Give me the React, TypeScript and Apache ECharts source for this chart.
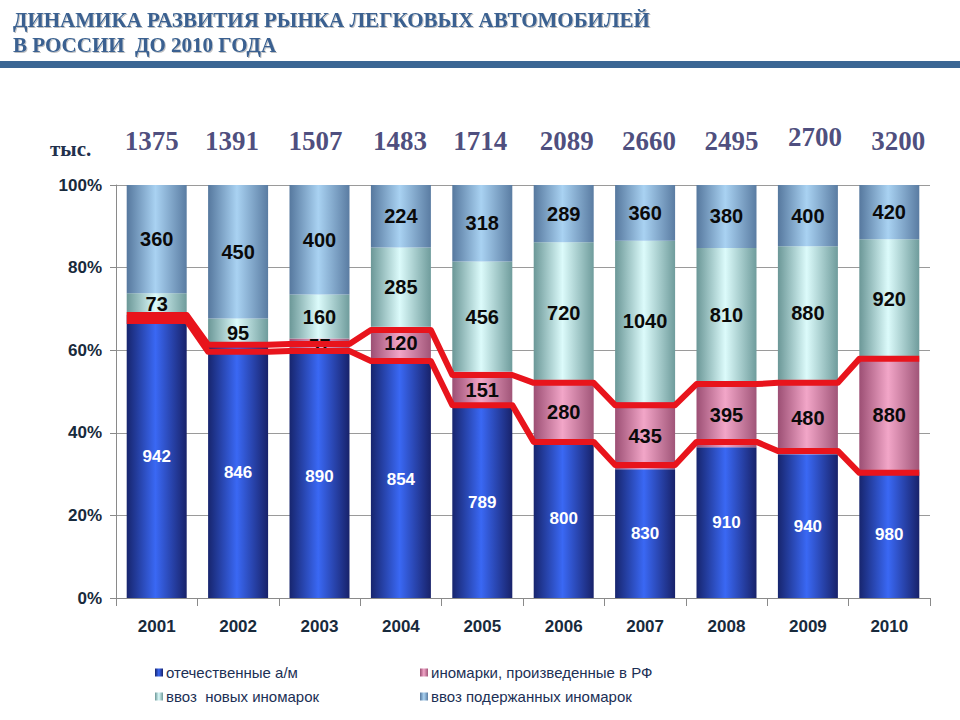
import React, { useEffect, useRef } from "react";
import * as echarts from "echarts";

const years = ["2001", "2002", "2003", "2004", "2005", "2006", "2007", "2008", "2009", "2010"];
const totals = [1375, 1391, 1507, 1483, 1714, 2089, 2660, 2495, 2700, 3200];
const domestic = [942, 846, 890, 854, 789, 800, 830, 910, 940, 980];
const foreignRF = [0, 0, 57, 120, 151, 280, 435, 395, 480, 880];
const newImports = [73, 95, 160, 285, 456, 720, 1040, 810, 880, 920];
const usedImports = [360, 450, 400, 224, 318, 289, 360, 380, 400, 420];
// red lines (% of market)
const lowerLine = [67.1, 59.6, 59.8, 57.4, 46.7, 37.8, 32.2, 37.8, 35.6, 30.3];
const upperLine = [68.5, 61.3, 61.5, 64.9, 54.0, 52.1, 46.7, 51.8, 52.1, 57.9];
const seriesNames = [
  "отечественные а/м",
  "иномарки, произведенные в РФ",
  "ввоз  новых иномарок",
  "ввоз подержанных иномарок",
];
const titleLines = ["ДИНАМИКА РАЗВИТИЯ РЫНКА ЛЕГКОВЫХ АВТОМОБИЛЕЙ", "В РОССИИ  ДО 2010 ГОДА"];
const unitLabel = "тыс.";

// label placement tweaks for the totals row (pixels)
const totalOffsetsX = [-5, -6, -4, -1, -2, 3, 4, 5, 7, 9];
const totalOffsetsY = [-44, -44, -44, -44, -44, -44, -44, -44, -48, -44];

const grad = (edge: string, mid: string, edge2: string) =>
  new echarts.graphic.LinearGradient(0, 0, 1, 0, [
    { offset: 0, color: edge },
    { offset: 0.48, color: mid },
    { offset: 1, color: edge2 },
  ]);

export default function App() {
  const ref = useRef<HTMLDivElement>(null);
  useEffect(() => {
    document.body.style.margin = "0";
    const chart = echarts.init(ref.current!, null, { renderer: "svg" });
    const sums = years.map((_, i) => domestic[i] + foreignRF[i] + newImports[i] + usedImports[i]);
    const pct = (arr: number[]) => arr.map((v, i) => (v / sums[i]) * 100);
    const raw = [domestic, foreignRF, newImports, usedImports];
    const fills = [
      grad("#17256e", "#3a68f4", "#18226a"),
      grad("#9c4f74", "#f2a6c8", "#a05578"),
      grad("#6b9797", "#dcfbfb", "#6f9c9c"),
      grad("#56789e", "#a9d2f2", "#5a7ca2"),
    ];
    const legendColors = ["#2c48c4", "#d98aab", "#b6e2e2", "#7ea6cf"];
    const barHalf = 0.368;
    const stepPts = (vals: number[]) => {
      const pts: number[][] = [];
      vals.forEach((v, i) => {
        pts.push([i + 0.5 - barHalf, v]);
        pts.push([i + 0.5 + barHalf, v]);
      });
      return pts;
    };

    const barSeries = raw.map((arr, si) => ({
      type: "bar",
      name: seriesNames[si],
      stack: "s",
      barWidth: 60,
      xAxisIndex: 0,
      yAxisIndex: 0,
      itemStyle: { color: fills[si] },
      data: pct(arr),
      label: {
        show: true,
        position: "inside",
        formatter: (p: any) => (arr[p.dataIndex] > 0 ? String(arr[p.dataIndex]) : ""),
        fontFamily: "Liberation Sans, Arial, sans-serif",
        fontWeight: "bold",
        fontSize: si === 0 ? 17 : 20,
        color: si === 0 ? "#ffffff" : "#0a0a0a",
      },
      z: 2,
    }));

    const legendText = {
      fontFamily: "Liberation Sans, Arial, sans-serif",
      fontSize: 15,
      color: "#1b2f55",
      padding: [0, 0, 0, -2],
    };

    const redLine = (vals: number[]) => ({
      type: "line",
      xAxisIndex: 1,
      yAxisIndex: 0,
      data: stepPts(vals),
      symbol: "none",
      lineStyle: { color: "#e8141c", width: 6, join: "round" },
      z: 5,
      silent: true,
    });

    const option: any = {
      animation: false,
      backgroundColor: "#ffffff",
      color: legendColors,
      grid: { left: 116, right: 30, top: 185, bottom: 122 },
      legend: [
        {
          left: 150,
          top: 660,
          orient: "vertical",
          itemWidth: 8,
          itemHeight: 8,
          itemGap: 9,
          icon: "rect",
          data: [seriesNames[0], seriesNames[2]],
          textStyle: legendText,
          selectedMode: false,
        },
        {
          left: 415,
          top: 660,
          orient: "vertical",
          itemWidth: 8,
          itemHeight: 8,
          itemGap: 9,
          icon: "rect",
          data: [seriesNames[1], seriesNames[3]],
          textStyle: legendText,
          selectedMode: false,
        },
      ],
      xAxis: [
        {
          type: "category",
          data: years,
          axisLine: { lineStyle: { color: "#8a8a8a" } },
          axisTick: { show: true, length: 8, lineStyle: { color: "#8a8a8a" } },
          axisLabel: {
            margin: 20,
            fontFamily: "Liberation Sans, Arial, sans-serif",
            fontWeight: "bold",
            fontSize: 17,
            color: "#182a3c",
          },
        },
        { type: "value", min: 0, max: 10, show: false },
      ],
      yAxis: {
        type: "value",
        min: 0,
        max: 100,
        interval: 20,
        axisLine: { show: true, lineStyle: { color: "#8a8a8a" } },
        axisTick: { show: true, length: 6, lineStyle: { color: "#8a8a8a" } },
        splitLine: { show: true, lineStyle: { color: "#9a9a9a", width: 1 } },
        axisLabel: {
          formatter: "{value}%",
          margin: 14,
          fontFamily: "Liberation Sans, Arial, sans-serif",
          fontWeight: "bold",
          fontSize: 17,
          color: "#182a3c",
        },
      },
      series: [
        ...barSeries,
        redLine(lowerLine),
        redLine(upperLine),
        {
          type: "scatter",
          xAxisIndex: 0,
          yAxisIndex: 0,
          symbolSize: 0,
          clip: false,
          silent: true,
          data: totals.map((t, i) => ({
            value: [years[i], 100],
            label: { offset: [totalOffsetsX[i], totalOffsetsY[i]] },
          })),
          label: {
            show: true,
            position: "inside",
            formatter: (p: any) => String(totals[p.dataIndex]),
            fontFamily: "Liberation Serif, Times New Roman, serif",
            fontWeight: "bold",
            fontSize: 27,
            color: "#1e1e5c",
          },
        },
      ],
      graphic: [
        {
          type: "rect",
          shape: { x: 0, y: 61, width: 960, height: 7 },
          style: { fill: "#3b6694" },
        },
        ...titleLines.map((t, k) => ({
          type: "text",
          left: 13,
          top: k === 0 ? 9 : 34,
          style: {
            text: t,
            font: "bold 21px 'Liberation Serif', 'Times New Roman', serif",
            fill: "#3a6190",
            textShadowColor: "rgba(0,0,0,0.25)",
            textShadowOffsetX: 1,
            textShadowOffsetY: 1,
            textShadowBlur: 1,
          },
        })),
        {
          type: "text",
          left: 50,
          top: 138,
          style: {
            text: unitLabel,
            font: "bold 21px 'Liberation Serif', 'Times New Roman', serif",
            fill: "#22304c",
          },
        },
      ],
    };
    chart.setOption(option);
    return () => chart.dispose();
  }, []);
  return <div ref={ref} style={{ width: 960, height: 720 }} />;
}
